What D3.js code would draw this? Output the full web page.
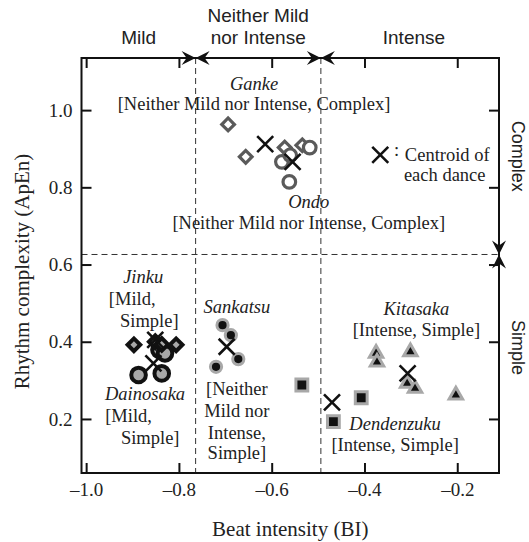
<!doctype html>
<html>
<head>
<meta charset="utf-8">
<title>Beat intensity vs rhythm complexity</title>
<script src="https://d3js.org/d3.v7.min.js"></script>
<style>
  body { margin: 0; background: #fff; }
  text { fill: #222; }
</style>
</head>
<body>
<script>

// tick values and labels
const xTicks = [-1.0, -0.8, -0.6, -0.4, -0.2];
const xTickLabels = ["\u20131.0", "\u20130.8", "\u20130.6", "\u20130.4", "\u20130.2"];
const yTicks = [0.2, 0.4, 0.6, 0.8, 1.0];
const yTickLabels = ["0.2", "0.4", "0.6", "0.8", "1.0"];

// category borders
const biBorders = [-0.764, -0.494];
const apenBorder = 0.626;

// each performance: [BI, ApEn]
const ganke = [[-0.694, 0.963], [-0.656, 0.879], [-0.572, 0.903], [-0.534, 0.909]];
const ondo = [[-0.578, 0.866], [-0.560, 0.883], [-0.518, 0.903], [-0.562, 0.814]];
const dainosaka = [[-0.887, 0.314], [-0.837, 0.318], [-0.842, 0.379], [-0.830, 0.370]];
const jinku = [[-0.897, 0.392], [-0.851, 0.400], [-0.837, 0.393], [-0.806, 0.392]];
const sankatsu = [[-0.706, 0.443], [-0.688, 0.417], [-0.672, 0.355], [-0.720, 0.335]];
const kitasaka = [[-0.375, 0.370], [-0.373, 0.347], [-0.301, 0.374], [-0.308, 0.292], [-0.291, 0.279], [-0.203, 0.262]];
const dendenzuku = [[-0.535, 0.288], [-0.407, 0.255], [-0.467, 0.193]];

// centroids, in order ganke, ondo, jinku, dainosaka, sankatsu, kitasaka, dendenzuku
const centroids = [[-0.614, 0.912], [-0.555, 0.866], [-0.851, 0.405], [-0.855, 0.344], [-0.697, 0.387], [-0.307, 0.318], [-0.470, 0.243]];

const w = 529;
const h = 542;

const x = d3.scaleLinear().domain([-1.01, -0.11]).range([81.5, 499]);
const y = d3.scaleLinear().domain([0.06, 1.135]).range([473, 58]);

const svg = d3.select("body").append("svg")
  .attr("width", w)
  .attr("height", h);

const serif = "'Liberation Serif', 'Times New Roman', serif";
const sans = "'Liberation Sans', Arial, sans-serif";
const darkGray = "#5a5a5a";
const lightGray = "#a8a8a8";

// dashed category lines
const dash = svg.append("g")
  .attr("stroke", "#333")
  .attr("stroke-width", 1)
  .attr("stroke-dasharray", "6,4");
biBorders.forEach(b => {
  dash.append("line")
    .attr("x1", x(b)).attr("x2", x(b))
    .attr("y1", y(1.135)).attr("y2", y(0.06));
});
dash.append("line")
  .attr("x1", x(-1.01)).attr("x2", x(-0.11))
  .attr("y1", y(apenBorder)).attr("y2", y(apenBorder));

// axes with inward ticks
function styleAxis(g) {
  g.select(".domain").remove();
  g.selectAll(".tick line").attr("stroke", "#111").attr("stroke-width", 2);
  g.selectAll(".tick text")
    .style("font-family", serif)
    .style("font-size", "19px")
    .attr("fill", "#222");
}

svg.append("g")
  .attr("transform", `translate(0,${y(0.06)})`)
  .call(d3.axisBottom(x).tickValues(xTicks).tickFormat((d, i) => xTickLabels[i]).tickSize(-10).tickPadding(10))
  .call(styleAxis);

svg.append("g")
  .attr("transform", `translate(0,${y(1.135)})`)
  .call(d3.axisTop(x).tickValues(xTicks).tickFormat("").tickSize(-10))
  .call(styleAxis);

svg.append("g")
  .attr("transform", `translate(${x(-1.01)},0)`)
  .call(d3.axisLeft(y).tickValues(yTicks).tickFormat((d, i) => yTickLabels[i]).tickSize(-10).tickPadding(9))
  .call(styleAxis);

svg.append("g")
  .attr("transform", `translate(${x(-0.11)},0)`)
  .call(d3.axisRight(y).tickValues(yTicks).tickFormat("").tickSize(-10))
  .call(styleAxis);

// frame
svg.append("rect")
  .attr("x", x(-1.01)).attr("y", y(1.135))
  .attr("width", x(-0.11) - x(-1.01))
  .attr("height", y(0.06) - y(1.135))
  .attr("fill", "none")
  .attr("stroke", "#111")
  .attr("stroke-width", 2);

// arrowheads where the borders meet the frame
const arrowPath = "M0,0 L-14,-7 L-9,0 L-14,7 Z";
function arrow(px, py, angle) {
  svg.append("path")
    .attr("d", arrowPath)
    .attr("transform", `translate(${px},${py}) rotate(${angle})`)
    .attr("fill", "#111");
}
biBorders.forEach(b => {
  arrow(x(b), y(1.135), 0);
  arrow(x(b), y(1.135), 180);
});
arrow(x(-0.11), y(apenBorder), 90);
arrow(x(-0.11), y(apenBorder), -90);

// markers
const symSquare = d3.symbol().type(d3.symbolSquare);
const symTri = d3.symbol().type(d3.symbolTriangle).size(78);

function diamonds(data, stroke, fill, sw) {
  svg.append("g").selectAll("path")
    .data(data).enter().append("path")
    .attr("d", symSquare.size(80)())
    .attr("transform", d => `translate(${x(d[0])},${y(d[1])}) rotate(45)`)
    .attr("fill", fill).attr("stroke", stroke).attr("stroke-width", sw);
}
function circles(data, r, stroke, fill, sw) {
  svg.append("g").selectAll("circle")
    .data(data).enter().append("circle")
    .attr("cx", d => x(d[0])).attr("cy", d => y(d[1]))
    .attr("r", r)
    .attr("fill", fill).attr("stroke", stroke).attr("stroke-width", sw);
}

diamonds(ganke, darkGray, "#fff", 3.2);
circles(ondo, 6.3, darkGray, "#fff", 3.2);
circles(dainosaka, 7.3, "#111", lightGray, 4);
diamonds(jinku, "#111", lightGray, 4);
circles(sankatsu, 5.6, lightGray, "#111", 3);

svg.append("g").selectAll("path")
  .data(kitasaka).enter().append("path")
  .attr("d", symTri())
  .attr("transform", d => `translate(${x(d[0])},${y(d[1])})`)
  .attr("fill", "#111").attr("stroke", lightGray).attr("stroke-width", 3);

svg.append("g").selectAll("path")
  .data(dendenzuku).enter().append("path")
  .attr("d", symSquare.size(140)())
  .attr("transform", d => `translate(${x(d[0])},${y(d[1])})`)
  .attr("fill", "#111").attr("stroke", lightGray).attr("stroke-width", 3);

// centroid crosses
const cross = "M-8,-8 L8,8 M-8,8 L8,-8";
svg.append("g").selectAll("path")
  .data(centroids.concat([[-0.366, 0.884]])).enter().append("path")
  .attr("d", cross)
  .attr("transform", d => `translate(${x(d[0])},${y(d[1])})`)
  .attr("stroke", "#111").attr("stroke-width", 2.6).attr("fill", "none");

// annotations (positions in data units)
const notes = [
  { t: "Ganke", bx: -0.638, ay: 1.070, a: "middle", it: true },
  { t: "[Neither Mild nor Intense, Complex]", bx: -0.638, ay: 1.018, a: "middle" },
  { t: "Ondo", bx: -0.520, ay: 0.762, a: "middle", it: true },
  { t: "[Neither Mild nor Intense, Complex]", bx: -0.520, ay: 0.708, a: "middle" },
  { t: ":", bx: -0.331, ay: 0.897, a: "middle" },
  { t: "Centroid of", bx: -0.313, ay: 0.886, a: "start" },
  { t: "each dance", bx: -0.315, ay: 0.832, a: "start" },
  { t: "Jinku", bx: -0.877, ay: 0.568, a: "middle", it: true },
  { t: "[Mild,", bx: -0.951, ay: 0.511, a: "start" },
  { t: "Simple]", bx: -0.927, ay: 0.456, a: "start" },
  { t: "Dainosaka", bx: -0.873, ay: 0.265, a: "middle", it: true },
  { t: "[Mild,", bx: -0.959, ay: 0.208, a: "start" },
  { t: "Simple]", bx: -0.925, ay: 0.153, a: "start" },
  { t: "Sankatsu", bx: -0.675, ay: 0.490, a: "middle", it: true },
  { t: "[Neither", bx: -0.675, ay: 0.280, a: "middle" },
  { t: "Mild nor", bx: -0.675, ay: 0.223, a: "middle" },
  { t: "Intense,", bx: -0.675, ay: 0.166, a: "middle" },
  { t: "Simple]", bx: -0.675, ay: 0.114, a: "middle" },
  { t: "Kitasaka", bx: -0.288, ay: 0.487, a: "middle", it: true },
  { t: "[Intense, Simple]", bx: -0.288, ay: 0.431, a: "middle" },
  { t: "Dendenzuku", bx: -0.334, ay: 0.189, a: "middle", it: true },
  { t: "[Intense, Simple]", bx: -0.334, ay: 0.135, a: "middle" }
];

svg.append("g").selectAll("text")
  .data(notes).enter().append("text")
  .attr("x", d => x(d.bx))
  .attr("y", d => y(d.ay))
  .attr("dy", "0.35em")
  .attr("text-anchor", d => d.a)
  .style("font-family", serif)
  .style("font-size", "18.5px")
  .style("font-style", d => d.it ? "italic" : "normal")
  .text(d => d.t);

// category headings (sans)
const topLabels = [
  { t: "Mild", from: -1.01, to: biBorders[0], lines: 1 },
  { t: "Neither Mild", from: biBorders[0], to: biBorders[1], lines: 2 },
  { t: "nor Intense", from: biBorders[0], to: biBorders[1], lines: 1 },
  { t: "Intense", from: biBorders[1], to: -0.11, lines: 1 }
];
svg.append("g").selectAll("text")
  .data(topLabels).enter().append("text")
  .attr("x", d => (x(d.from) + x(d.to)) / 2 + (d.t === "Intense" ? 4 : 0))
  .attr("y", d => d.lines === 2 ? 22 : 44)
  .attr("text-anchor", "middle")
  .style("font-family", sans)
  .style("font-size", "19px")
  .text(d => d.t);

svg.append("text")
  .attr("transform", `translate(518,${(y(1.135) + y(apenBorder)) / 2}) rotate(90)`)
  .attr("text-anchor", "middle")
  .attr("dy", "0.35em")
  .style("font-family", sans)
  .style("font-size", "18px")
  .text("Complex");

svg.append("text")
  .attr("transform", `translate(518,${y(0.385)}) rotate(90)`)
  .attr("text-anchor", "middle")
  .attr("dy", "0.35em")
  .style("font-family", sans)
  .style("font-size", "18px")
  .text("Simple");

// axis titles
svg.append("text")
  .attr("x", (x(-1.01) + x(-0.11)) / 2)
  .attr("y", 529)
  .attr("dy", "0.35em")
  .attr("text-anchor", "middle")
  .style("font-family", serif)
  .style("font-size", "21px")
  .text("Beat intensity (BI)");

svg.append("text")
  .attr("transform", `translate(22,${(y(1.135) + y(0.06)) / 2 + 6}) rotate(-90)`)
  .attr("dy", "0.35em")
  .attr("text-anchor", "middle")
  .style("font-family", serif)
  .style("font-size", "21px")
  .text("Rhythm complexity (ApEn)");

</script>
</body>
</html>
